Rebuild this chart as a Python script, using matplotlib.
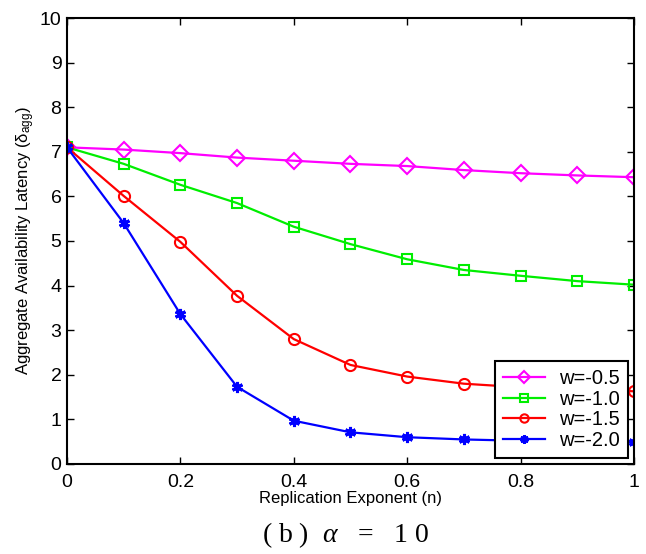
import matplotlib
matplotlib.use("Agg")
import matplotlib.pyplot as plt

plt.rcParams['font.family'] = ['Liberation Sans', 'DejaVu Sans']
plt.rcParams['mathtext.fontset'] = 'custom'
plt.rcParams['mathtext.rm'] = 'Liberation Sans'
plt.rcParams['mathtext.it'] = 'Liberation Serif:italic'

# Du lieu doc tu hinh
n_vals = [0, 0.1, 0.2, 0.3, 0.4, 0.5, 0.6, 0.7, 0.8, 0.9, 1.0]
w_05 = [7.10, 7.05, 6.97, 6.87, 6.80, 6.73, 6.68, 6.59, 6.52, 6.47, 6.43]
w_10 = [7.10, 6.73, 6.26, 5.85, 5.32, 4.93, 4.59, 4.35, 4.22, 4.10, 4.02]
w_15 = [7.10, 6.01, 4.98, 3.77, 2.80, 2.22, 1.96, 1.80, 1.72, 1.67, 1.63]
w_20 = [7.10, 5.40, 3.36, 1.73, 0.97, 0.71, 0.60, 0.55, 0.52, 0.50, 0.49]
labels = ['w=-0.5', 'w=-1.0', 'w=-1.5', 'w=-2.0']
x_ticks = [0, 0.2, 0.4, 0.6, 0.8, 1]
x_tick_labels = ['0', '0.2', '0.4', '0.6', '0.8', '1']
y_ticks = list(range(0, 11))

fig = plt.figure(figsize=(6.46, 5.54), dpi=100)
ax = fig.add_axes([0.1037, 0.1625, 0.8777, 0.805])

ax.plot(n_vals, w_05, color='#ff00ff', marker='D', markersize=8, mfc='none',
        mew=1.5, lw=1.6, label=labels[0])
ax.plot(n_vals, w_10, color='#00ee00', marker='s', markersize=7, mfc='none',
        mew=1.5, lw=1.6, label=labels[1])
ax.plot(n_vals, w_15, color='#ff0000', marker='o', markersize=8, mfc='none',
        mew=1.5, lw=1.6, label=labels[2])
ax.plot(n_vals, w_20, color='#0000ff', marker=(6, 2, 0), markersize=8,
        mew=2.2, lw=1.6, label=labels[3])

ax.set_xlim(0, 1)
ax.set_ylim(0, 10)
ax.set_xticks(x_ticks)
ax.set_xticklabels(x_tick_labels)
ax.set_yticks(y_ticks)
ax.tick_params(direction='in', top=True, right=True, labelsize=14, length=5, width=1)
ax.tick_params(axis='x', pad=7)
ax.tick_params(axis='y', pad=4)
for s in ax.spines.values():
    s.set_linewidth(1.5)

ax.set_xlabel('Replication Exponent (n)', fontsize=12, labelpad=0)
ax.set_ylabel(r'Aggregate Availability Latency ($\mathrm{\delta}_{\mathrm{agg}}$)', fontsize=12, labelpad=2)

leg = ax.legend(loc='lower right', fontsize=14.5, fancybox=False, framealpha=1,
                edgecolor='black', borderaxespad=0.3, handlelength=2.1,
                handletextpad=0.7, borderpad=0.4, labelspacing=0.08,
                markerscale=0.75)
leg.get_frame().set_linewidth(1.5)

fig.text(0.535, 0.034, r'( b )  $\alpha$   =   1 0', fontsize=20, family='Liberation Serif',
         ha='center', va='center')

fig.savefig('out.png', dpi=100)
